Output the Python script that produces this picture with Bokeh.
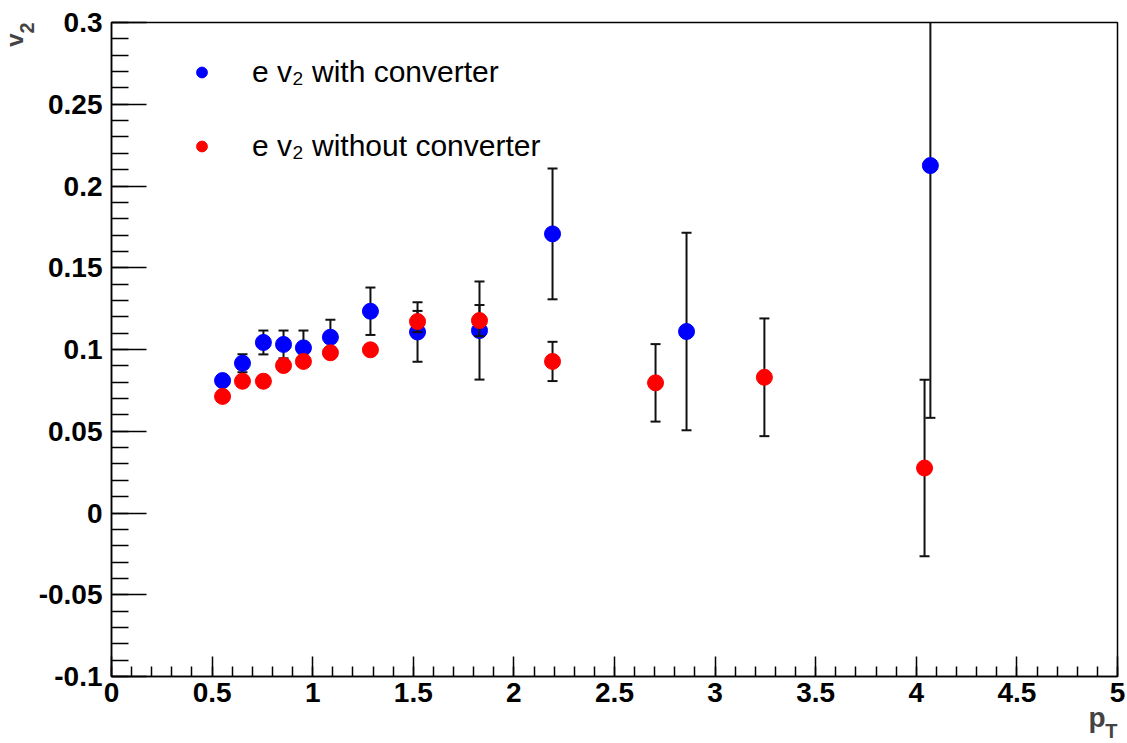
import numpy as np
from bokeh.plotting import figure
from bokeh.models import (ColumnDataSource, FixedTicker, CustomJSTickFormatter,
                          Legend, LegendItem, Range1d, Title)
from bokeh.embed import file_html
from bokeh.resources import INLINE

# ---- data ----
pt_with = [0.552, 0.651, 0.755, 0.855, 0.954, 1.088, 1.287, 1.521, 1.829, 2.192, 2.858, 4.070]
v2_with = [0.0810, 0.0916, 0.1043, 0.1031, 0.1010, 0.1075, 0.1234, 0.1107, 0.1116, 0.1707, 0.1110, 0.2125]
err_with = [0.0030, 0.0055, 0.0073, 0.0085, 0.0106, 0.0107, 0.0145, 0.0182, 0.0300, 0.0400, 0.0604, 0.1543]

pt_without = [0.552, 0.651, 0.755, 0.855, 0.954, 1.088, 1.287, 1.521, 1.829, 2.192, 2.704, 3.245, 4.041]
v2_without = [0.0713, 0.0806, 0.0806, 0.0902, 0.0927, 0.0980, 0.0998, 0.1171, 0.1177, 0.0927, 0.0796, 0.0830, 0.0275]
err_without = [0.0030, 0.0030, 0.0030, 0.0030, 0.0030, 0.0030, 0.0030, 0.0065, 0.0095, 0.0120, 0.0237, 0.0360, 0.0540]

label_with = "e v\u2082 with converter"
label_without = "e v\u2082 without converter"

x_major_ticks = [0, 0.5, 1, 1.5, 2, 2.5, 3, 3.5, 4, 4.5, 5]
y_major_ticks = [-0.1, -0.05, 0, 0.05, 0.1, 0.15, 0.2, 0.25, 0.3]
x_minor_ticks = [round(i * 0.1, 2) for i in range(0, 51)]
y_minor_ticks = [round(-0.1 + i * 0.01, 3) for i in range(0, 41)]

x_start, x_end = 0, 5
y_start, y_end = -0.1, 0.3

p = figure(width=1127, height=743, output_backend="svg", toolbar_location=None,
           x_range=Range1d(x_start, x_end), y_range=Range1d(y_start, y_end),
           min_border_left=111, min_border_right=10, min_border_top=22, min_border_bottom=67,
           title=None)
p.background_fill_color = "white"
p.border_fill_color = "white"
p.grid.visible = False
p.outline_line_color = "black"
p.outline_line_width = 1.5

p.xaxis.ticker = FixedTicker(ticks=x_major_ticks, minor_ticks=x_minor_ticks)
p.yaxis.ticker = FixedTicker(ticks=y_major_ticks, minor_ticks=y_minor_ticks)
fmt = CustomJSTickFormatter(code="return (Math.round(tick*100)/100).toString();")
p.xaxis.formatter = fmt
p.yaxis.formatter = fmt

for ax in (p.xaxis[0], p.yaxis[0]):
    ax.axis_line_color = "black"
    ax.axis_line_width = 1.5
    ax.major_tick_line_color = "black"
    ax.minor_tick_line_color = "black"
    ax.major_tick_line_width = 1.5
    ax.minor_tick_line_width = 1.5
    ax.major_tick_out = 0
    ax.minor_tick_out = 0
    ax.major_label_text_font = "Liberation Sans"
    ax.major_label_text_font_style = "bold"
    ax.major_label_text_font_size = "28px"
    ax.major_label_text_color = "black"

p.yaxis.major_tick_in = 35
p.yaxis.minor_tick_in = 17
p.yaxis.major_label_standoff = 9
p.xaxis.major_tick_in = 20
p.xaxis.minor_tick_in = 10
p.xaxis.major_label_standoff = 6


def draw_series(pt, v2, err, color):
    pt = np.array(pt)
    v2 = np.array(v2)
    err = np.array(err)
    src = ColumnDataSource(dict(x=pt, y=v2, lo=v2 - err, hi=v2 + err))
    p.segment(x0="x", y0="lo", x1="x", y1="hi", source=src, line_color="#111111", line_width=2)
    p.scatter(x="x", y="lo", source=src, marker="dash", size=10, line_color="#111111", line_width=2)
    p.scatter(x="x", y="hi", source=src, marker="dash", size=10, line_color="#111111", line_width=2)
    r = p.scatter(x="x", y="y", source=src, marker="circle", size=16,
                  fill_color=color, line_color=color, line_width=1)
    return r


r_with = draw_series(pt_with, v2_with, err_with, "#0000ff")
r_without = draw_series(pt_without, v2_without, err_without, "#ff0000")

legend = Legend(items=[LegendItem(label=label_with, renderers=[r_with]),
                       LegendItem(label=label_without, renderers=[r_without])],
                location=(77, 512), padding=0, margin=0, spacing=38,
                glyph_width=27, glyph_height=36, label_height=36, label_standoff=37,
                label_text_font="Liberation Sans", label_text_font_size="30px",
                label_text_color="black",
                border_line_alpha=0, background_fill_alpha=0)
p.add_layout(legend)

# axis titles with subscripts (as side-panel titles)
title_font = "Liberation Sans"
t_sub2 = Title(text="2", align="right", offset=0, standoff=4,
               text_font=title_font, text_font_style="bold", text_font_size="20px")
t_v = Title(text="v", align="right", offset=11, standoff=-24,
            text_font=title_font, text_font_style="bold", text_font_size="24px")
p.add_layout(t_sub2, "left")
p.add_layout(t_v, "left")

t_p = Title(text="p", align="right", offset=12, standoff=-9,
            text_font=title_font, text_font_style="bold", text_font_size="28px")
t_T = Title(text="T", align="right", offset=0, standoff=-27,
            text_font=title_font, text_font_style="bold", text_font_size="20px")
p.add_layout(t_p, "below")
p.add_layout(t_T, "below")

open("out.html", "w").write(file_html(p, INLINE))
